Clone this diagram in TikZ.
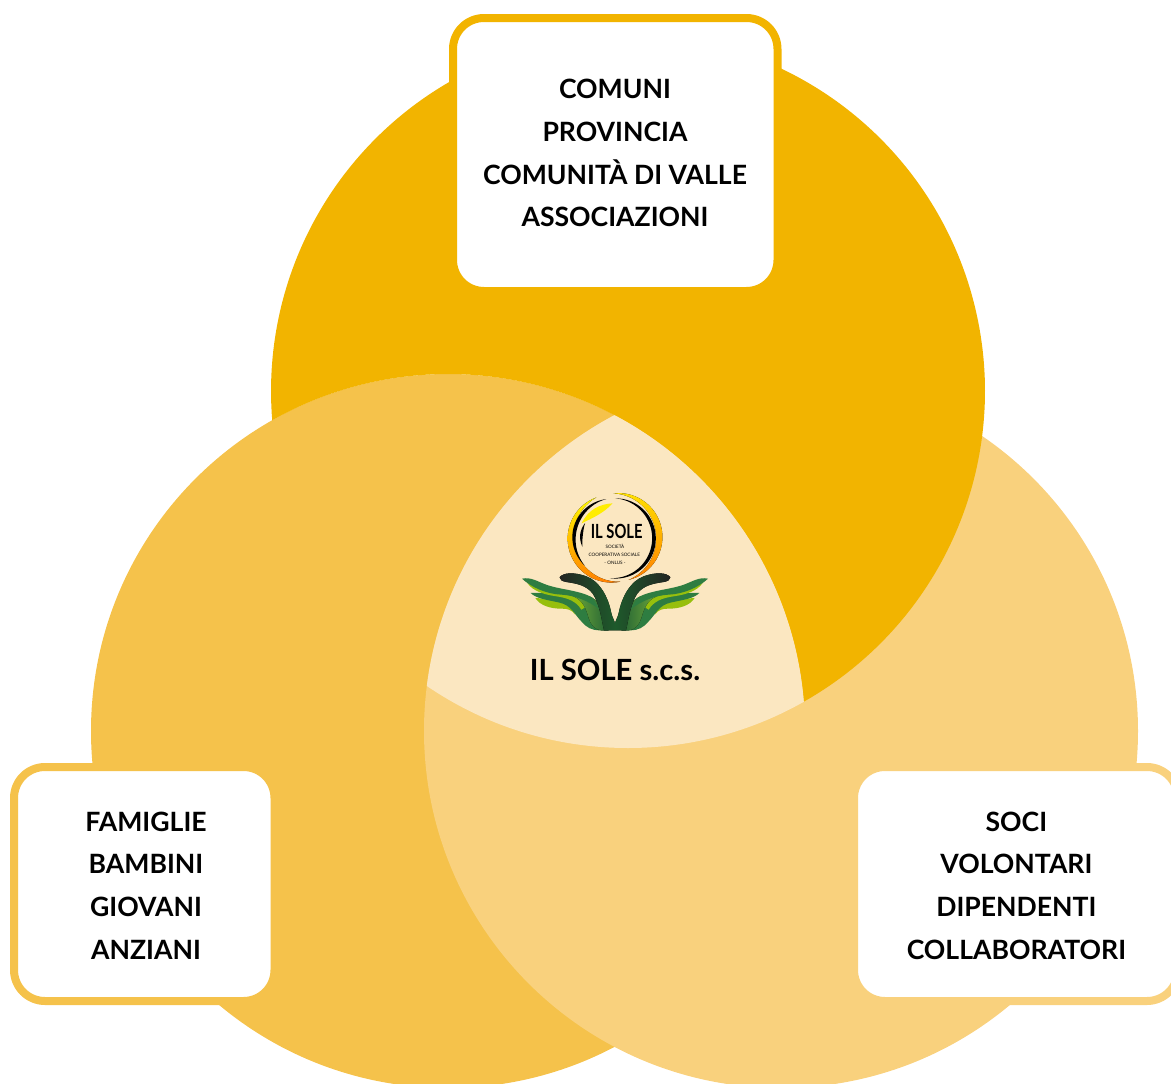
\documentclass[tikz,border=0pt]{standalone}
\usepackage{fontspec}
\setmainfont{Lato}
\definecolor{topc}{HTML}{F2B400}
\definecolor{leftc}{HTML}{F5C24B}
\definecolor{rightc}{HTML}{F9D17D}
\definecolor{midc}{HTML}{FBE7C1}
\definecolor{dkgreen}{HTML}{1E5A2B}
\definecolor{mdgreen}{HTML}{2E7D41}
\definecolor{ltgreen}{HTML}{6BA63A}
\definecolor{lime}{HTML}{97BF0D}
\definecolor{blackish}{HTML}{232523}
\tikzset{
  boxshape/.style={draw=#1,fill=white,line width=8pt,rounded corners=31pt,inner sep=0pt},
  boxtext/.style={align=center,inner sep=0pt,font=\fontsize{26.6}{42.8}\selectfont\bfseries,text=black},
}
% tapered brush stroke: centre x, y, radius, from, to, width
\newcommand{\brushpath}[6]{
  plot[domain=#4:#5,samples=50,variable=\t] ({#1+(#3+#6/2*sin((\t-#4)/(#5-#4)*180))*cos(\t)},{#2+(#3+#6/2*sin((\t-#4)/(#5-#4)*180))*sin(\t)})
  -- plot[domain=#5:#4,samples=50,variable=\t] ({#1+(#3-#6/2*sin((\t-#4)/(#5-#4)*180))*cos(\t)},{#2+(#3-#6/2*sin((\t-#4)/(#5-#4)*180))*sin(\t)}) -- cycle
}
\newcommand{\leafhalf}[2]{
  % lower lime band
  \fill[lime]
    (52,90) .. controls (66,112) and (95,122) .. (130,122)
    .. controls (150,122) and (160,125) .. (172,140)
    -- (150,100) -- (80,92) -- cycle;
  % second green band
  \fill[mdgreen]
    (38,75) .. controls (55,92) and (85,95) .. (125,104)
    .. controls (160,112) and (170,140) .. (190,160)
    .. controls (205,178) and (220,187) .. (245,187)
    -- (270,187) -- (245,100) -- (150,80)
    .. controls (100,80) and (70,72) .. (38,75) -- cycle;
  % upper lime band
  \fill[lime]
    (28,45) .. controls (45,70) and (80,80) .. (115,85)
    .. controls (150,90) and (175,100) .. (190,125)
    -- (215,110) -- (150,70) -- (80,60) -- cycle;
  % light-green body
  \fill[#1=ltgreen,#2=mdgreen!80!black]
    (165,85) .. controls (195,95) and (205,125) .. (212,150)
    .. controls (218,170) and (232,187) .. (250,187)
    -- (272,187) -- (255,110) -- (215,85) -- cycle;
  % top green band
  \fill[mdgreen]
    (12,32) .. controls (40,26) and (60,42) .. (90,52)
    .. controls (130,65) and (190,68) .. (225,90)
    -- (245,125)
    .. controls (215,100) and (170,82) .. (130,80)
    .. controls (85,78) and (40,58) .. (12,32) -- cycle;
  % dark top leaf
  \fill[#1=blackish,#2=dkgreen]
    (125,28) .. controls (135,13) and (170,12) .. (205,25)
    .. controls (245,40) and (270,85) .. (280,135)
    .. controls (283,150) and (291,158) .. (291,170)
    -- (291,187) -- (258,187)
    .. controls (250,150) and (245,110) .. (225,78)
    .. controls (205,50) and (170,46) .. (145,42)
    .. controls (132,40) and (125,35) .. (125,28) -- cycle;
}
\begin{document}
\begin{tikzpicture}[x=1pt,y=-1pt]
\useasboundingbox (0,0) rectangle (1171,1084);
\clip (0,0) rectangle (1171,1084);
\coordinate (ct) at (628,391);
\coordinate (cl) at (448,731);
\coordinate (cr) at (781,731);
% cyclic overlap of the three circles: right over left, top over right, left over top
\fill[leftc] (cl) circle[radius=357pt];
\fill[rightc] (cr) circle[radius=357pt];
% the top circle without its part inside the left circle
\fill[topc]
  plot[domain=60.5:-184.7,samples=240,variable=\t] ({628+357*cos(\t)},{391+357*sin(\t)})
  -- plot[domain=240.5:355.3,samples=120,variable=\t] ({448+357*cos(\t)},{731+357*sin(\t)}) -- cycle;
\begin{scope}
  \clip (cl) circle[radius=357pt];
  \clip (cr) circle[radius=357pt];
  \fill[midc] (ct) circle[radius=357pt];
\end{scope}
% boxes
\node[boxshape=topc,minimum width=324.5pt,minimum height=273pt] (btop) at (615.25,154.5) {};
\node[boxshape=leftc,minimum width=260.5pt,minimum height=234pt] (bleft) at (144.25,884) {};
\node[boxshape=rightc,minimum width=324pt,minimum height=234pt] (bright) at (1016,884) {};
\node[boxtext] (ttop) at (615,153) {COMUNI\\PROVINCIA\\COMUNITÀ DI VALLE\\ASSOCIAZIONI};
\node[boxtext] (tleft) at (146,885.6) {FAMIGLIE\\BAMBINI\\GIOVANI\\ANZIANI};
\node[boxtext] (tright) at (1016.4,885.6) {SOCI\\VOLONTARI\\DIPENDENTI\\COLLABORATORI};
\node[inner sep=0pt,font=\fontsize{29.2}{32}\selectfont\bfseries,text=black] (tcentre) at (615,670) {IL SOLE s.c.s.};
% logo (coordinates of a 3x view with origin at 500,470)
\begin{scope}[shift={(500,470)},x=0.3333pt,y=-0.3333pt]
  \begin{scope}[shift={(54,294)}]\leafhalf{left color}{right color}\end{scope}
  \begin{scope}[xshift=230pt,xscale=-1,shift={(54,294)}]\leafhalf{right color}{left color}\end{scope}
  \fill[top color=yellow!95!orange,bottom color=orange] \brushpath{345}{203}{133}{83}{245}{19};
  \fill[top color=yellow!75!orange,bottom color=orange] \brushpath{345}{203}{133}{268}{432}{19};
  \fill[yellow!95!orange] (245,160) .. controls (265,118) and (300,102) .. (338,100)
     .. controls (308,132) and (275,145) .. (245,160) -- cycle;
  \fill[black] \brushpath{342}{205}{120}{137}{259}{11};
  \fill[black] \brushpath{342}{205}{120}{272}{456}{11};
  \fill[black] \brushpath{342}{205}{98}{165}{208}{8};
  \node[inner sep=0pt,font=\fontsize{16}{16}\selectfont\bfseries,text=black] (lname) at (350,185) {\scalebox{0.92}[1.22]{IL SOLE}};
  \node[inner sep=0pt,font=\fontsize{4.6}{5}\selectfont,text=black] (l1) at (345,229) {SOCIETÀ};
  \node[inner sep=0pt,font=\fontsize{4.6}{5}\selectfont,text=black] (l2) at (343,254) {COOPERATIVA SOCIALE};
  \node[inner sep=0pt,font=\fontsize{4.6}{5}\selectfont,text=black] (l3) at (345,279) {- ONLUS -};
\end{scope}
\end{tikzpicture}
\end{document}
